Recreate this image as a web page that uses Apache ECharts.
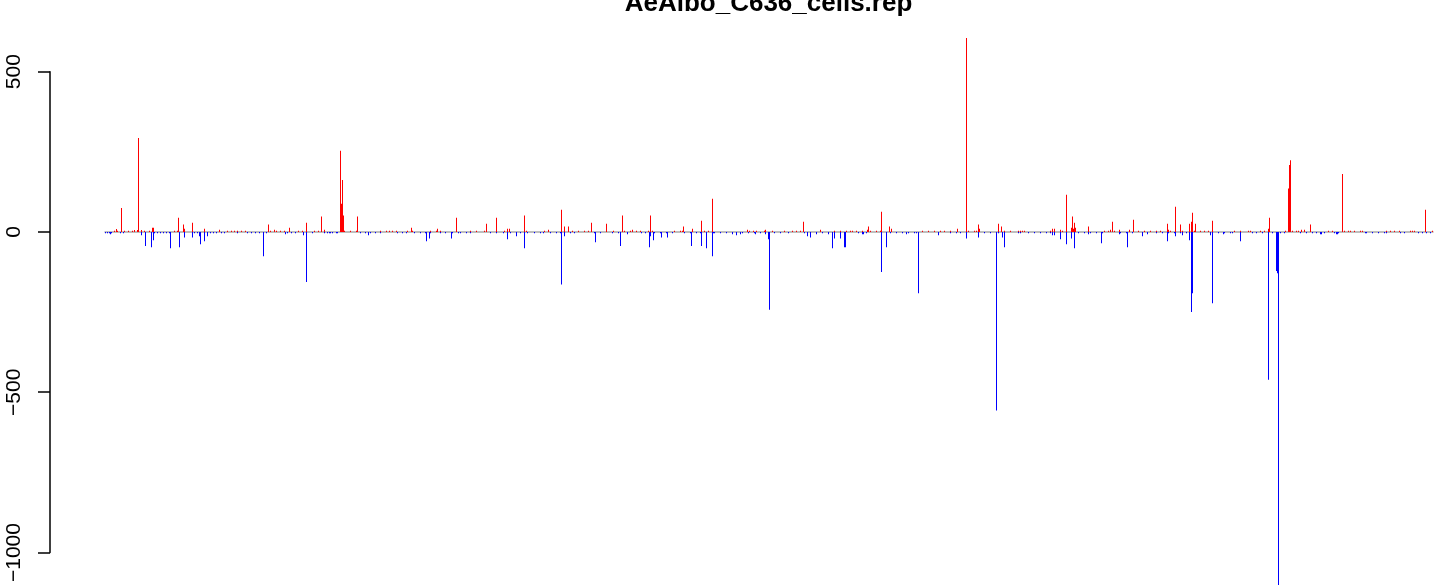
<!DOCTYPE html>
<html><head><meta charset="utf-8">
<script src="https://cdn.jsdelivr.net/npm/echarts@6/dist/echarts.min.js"></script>
<style>html,body{margin:0;padding:0;background:#fff}#c{width:1444px;height:585px}</style>
</head><body><div id="c"></div>
<script>
const chartTitle = 'AeAlbo_C636_cells.rep';
const positionCount = 1330;
const yTicks = [-1000, -500, 0, 500];

// [position index, value] — red (positive)
const plusPeaks = [[12,9],[17,75],[30,6],[33,6],[34,293],[37,6],[48,13],[49,13],[74,44],[79,23],[80,10],[88,29],[100,10],[115,7],[130,4],[164,23],[170,7],[185,13],[202,29],[217,48],[220,7],[236,253],[237,88],[238,162],[239,51],[253,48],[285,4],[307,13],[333,10],[352,44],[382,26],[392,44],[403,10],[405,10],[420,51],[422,4],[444,7],[457,69],[460,17],[464,17],[487,29],[502,26],[509,4],[518,51],[528,7],[546,51],[579,17],[588,10],[597,35],[608,104],[643,7],[649,4],[661,7],[699,32],[716,7],[746,4],[758,4],[763,7],[764,17],[777,63],[785,17],[787,10],[853,10],[862,605],[874,23],[875,10],[894,26],[897,17],[948,10],[950,10],[956,7],[962,116],[967,13],[968,48],[969,10],[970,29],[971,13],[984,17],[1006,7],[1008,32],[1015,7],[1025,7],[1029,38],[1063,26],[1064,7],[1066,4],[1071,79],[1076,23],[1078,4],[1085,26],[1087,32],[1088,60],[1091,26],[1108,35],[1164,10],[1165,44],[1181,4],[1184,136],[1185,209],[1186,224],[1197,7],[1200,7],[1206,23],[1238,181],[1246,4],[1295,4],[1308,4],[1321,69]];
const plusLow = [[10,4],[13,4],[20,4],[24,4],[28,4],[40,4],[45,4],[70,4],[73,4],[123,4],[127,4],[133,4],[137,4],[141,4],[166,4],[172,4],[176,4],[180,4],[194,4],[198,4],[210,4],[214,4],[240,4],[246,4],[252,4],[276,4],[282,4],[288,4],[292,4],[303,4],[308,4],[326,4],[332,4],[336,4],[366,4],[372,4],[380,4],[400,4],[440,4],[468,4],[474,4],[480,4],[484,4],[520,4],[526,4],[532,4],[536,4],[544,4],[548,4],[570,4],[576,4],[578,4],[600,4],[604,4],[645,4],[652,4],[660,4],[668,4],[680,4],[688,4],[692,4],[696,4],[730,4],[736,4],[742,4],[748,4],[752,4],[766,4],[772,4],[776,4],[818,4],[824,4],[830,4],[836,4],[840,4],[846,4],[864,4],[870,4],[872,4],[900,4],[906,4],[914,4],[916,4],[918,4],[920,4],[946,4],[958,4],[1000,4],[1004,4],[1010,4],[1034,4],[1040,4],[1046,4],[1052,4],[1056,4],[1090,4],[1096,4],[1100,4],[1104,4],[1130,4],[1136,4],[1144,4],[1146,4],[1156,4],[1160,4],[1188,4],[1192,4],[1194,4],[1224,4],[1228,4],[1240,4],[1244,4],[1250,4],[1256,4],[1258,4],[1282,4],[1286,4],[1290,4],[1306,4],[1310,4],[1328,4]];
// blue (negative)
const minusPeaks = [[6,-7],[37,-10],[41,-44],[47,-48],[49,-26],[66,-51],[75,-48],[80,-17],[88,-17],[95,-13],[96,-38],[100,-29],[103,-13],[133,-4],[143,-4],[159,-76],[181,-7],[199,-10],[202,-156],[208,-4],[223,-4],[225,-4],[233,-4],[264,-10],[322,-29],[325,-20],[347,-20],[354,-4],[403,-23],[412,-13],[420,-51],[439,-4],[457,-164],[460,-13],[491,-32],[516,-44],[523,-7],[545,-48],[546,-13],[549,-26],[557,-17],[563,-17],[587,-44],[597,-44],[602,-51],[608,-76],[609,-4],[628,-7],[632,-10],[636,-7],[651,-7],[661,-7],[664,-23],[665,-243],[684,-4],[703,-13],[706,-17],[712,-7],[724,-7],[728,-51],[730,-20],[736,-20],[740,-48],[741,-48],[758,-7],[759,-7],[777,-125],[782,-48],[802,-7],[814,-191],[834,-10],[862,-20],[874,-17],[892,-557],[898,-17],[900,-48],[914,-4],[916,-4],[948,-10],[950,-10],[956,-23],[962,-38],[967,-20],[970,-51],[984,-7],[997,-35],[1015,-7],[1023,-48],[1038,-13],[1043,-7],[1063,-29],[1071,-13],[1078,-10],[1085,-26],[1087,-250],[1088,-191],[1106,-10],[1108,-222],[1119,-7],[1136,-29],[1164,-461],[1172,-122],[1173,-129],[1174,-1160],[1216,-7],[1217,-7],[1220,-4],[1232,-7],[1233,-7],[1261,-4]];
const minusLow = [[1,-4],[3,-4],[5,-4],[7,-4],[16,-4],[19,-4],[50,-4],[53,-4],[56,-4],[59,-4],[62,-4],[65,-4],[90,-4],[93,-4],[106,-4],[109,-4],[112,-4],[117,-4],[120,-4],[147,-4],[151,-4],[155,-4],[162,-4],[183,-4],[187,-4],[191,-4],[220,-4],[226,-4],[228,-4],[232,-4],[256,-4],[261,-4],[266,-4],[271,-4],[276,-4],[293,-4],[298,-4],[302,-4],[310,-4],[316,-4],[321,-4],[326,-4],[336,-4],[341,-4],[348,-4],[356,-4],[362,-4],[366,-4],[386,-4],[392,-4],[399,-4],[406,-4],[412,-4],[416,-4],[423,-4],[430,-4],[436,-4],[446,-4],[452,-4],[456,-4],[466,-4],[470,-4],[490,-4],[496,-4],[508,-4],[514,-4],[537,-4],[541,-4],[550,-4],[556,-4],[562,-4],[568,-4],[580,-4],[586,-4],[592,-4],[596,-4],[610,-4],[616,-4],[622,-4],[638,-4],[644,-4],[650,-4],[656,-4],[670,-4],[676,-4],[700,-4],[718,-4],[754,-4],[762,-4],[786,-4],[792,-4],[798,-4],[804,-4],[810,-4],[812,-4],[846,-4],[852,-4],[856,-4],[880,-4],[886,-4],[894,-4],[924,-4],[930,-4],[936,-4],[942,-4],[946,-4],[974,-4],[980,-4],[986,-4],[992,-4],[998,-4],[1016,-4],[1022,-4],[1028,-4],[1052,-4],[1058,-4],[1064,-4],[1070,-4],[1076,-4],[1082,-4],[1114,-4],[1120,-4],[1126,-4],[1128,-4],[1148,-4],[1152,-4],[1158,-4],[1168,-4],[1176,-4],[1180,-4],[1196,-4],[1202,-4],[1208,-4],[1212,-4],[1230,-4],[1234,-4],[1262,-4],[1268,-4],[1274,-4],[1280,-4],[1282,-4],[1296,-4],[1300,-4],[1314,-4],[1318,-4],[1322,-4],[1326,-4]];

const FONT = '"Liberation Sans", Arial, Helvetica, sans-serif';
const chart = echarts.init(document.getElementById('c'), null, {renderer: 'canvas'});
const plusData = plusLow.concat(plusPeaks);
const minusData = minusLow.concat(minusPeaks);
chart.setOption({
  animation: false,
  backgroundColor: '#ffffff',
  graphic: [{
    type: 'text', silent: true,
    style: {text: chartTitle, x: 768.5, y: 4, textAlign: 'center', textVerticalAlign: 'middle',
            font: 'bold 26px ' + FONT, fill: '#000'}
  }],
  grid: {left: 104.5, right: 10.5, top: 71.7, bottom: 31.7, containLabel: false},
  xAxis: {type: 'value', min: 0, max: positionCount - 1, show: false},
  yAxis: {
    type: 'value', min: yTicks[0], max: yTicks[yTicks.length - 1], interval: 500,
    offset: 54.5,
    axisLine: {show: true, onZero: false, lineStyle: {color: '#000', width: 1.5}},
    axisTick: {show: true, length: 12, lineStyle: {color: '#000', width: 1.5}},
    axisLabel: {show: true, rotate: 90, margin: 25, fontSize: 21, color: '#000', fontFamily: FONT,
                formatter: v => String(v).replace('-', '\u2212')},
    splitLine: {show: false}
  },
  series: [
    {type: 'bar', name: 'plus', data: plusData, barWidth: 1, barGap: '-100%', clip: false, silent: true,
     itemStyle: {color: '#ff0000'}, z: 3,
     markLine: {silent: true, symbol: 'none', z: 1, label: {show: false},
                lineStyle: {color: '#bebebe', width: 2, type: 'solid'},
                data: [{yAxis: 0}]}},
    {type: 'bar', name: 'minus', data: minusData, barWidth: 1, barGap: '-100%', clip: false, silent: true,
     itemStyle: {color: '#0000ff'}, z: 3}
  ]
});
</script></body></html>
